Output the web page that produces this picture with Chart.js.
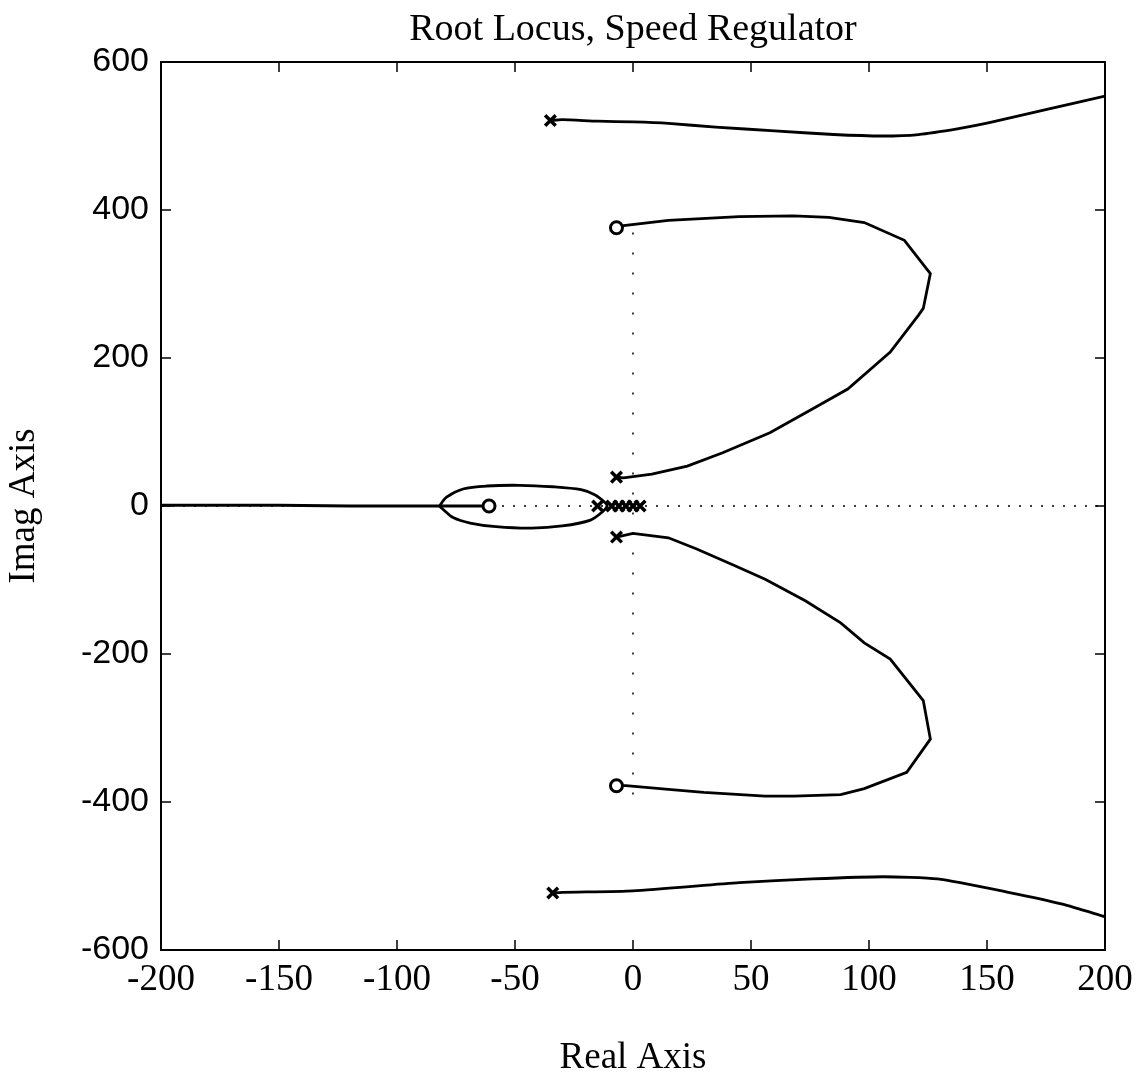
<!DOCTYPE html>
<html>
<head>
<meta charset="utf-8">
<title>Root Locus, Speed Regulator</title>
<script src="https://cdn.jsdelivr.net/npm/chart.js@4.4.1/dist/chart.umd.min.js"></script>
<style>
  html, body { margin: 0; padding: 0; background: #fff; }
  canvas { display: block; }
</style>
</head>
<body>
<canvas id="rlocus" width="1142" height="1077"></canvas>
<script>
// locus branches as [real, imag]
const topBranch = [[-35, 521], [-30, 522], [-15, 520], [0, 519], [15, 517], [35, 512], [60, 507],
  [85, 502], [106, 500], [121, 502], [138, 510], [151, 518], [174, 535], [200, 554]];
const upperLoop = [[-7, 376], [-4, 379], [15, 386], [45, 391], [68, 392], [83, 390], [98, 383],
  [115, 359], [126, 314], [123, 267], [121, 258], [109, 208], [91, 158], [76, 131], [58, 99],
  [38, 72], [23, 54], [8, 43], [-4, 38], [-7, 39]];
const lowerLoop = [[-7, -42], [0, -37], [15, -43], [27, -58], [42, -79], [56, -99], [73, -128],
  [88, -158], [98, -185], [109, -207], [123, -263], [126, -315], [116, -360], [98, -382],
  [88, -390], [68, -392], [56, -392], [30, -387], [15, -383], [-3, -378], [-7, -378]];
const bottomBranch = [[-34, -523], [-30, -522], [0, -520], [45, -509], [76, -504], [106, -501],
  [129, -504], [159, -522], [182, -538], [200, -555]];
const realBranch = [[-200, 1], [-150, 1], [-120, 0], [-83, 0], [-61, 0]];
const breakLoop = [[-82, 0], [-79, 12], [-72, 23], [-62, 27], [-48, 28], [-34, 26], [-22, 22],
  [-16, 15], [-12, 5], [-11, 0], [-13, -8], [-18, -19], [-30, -27], [-43, -30], [-58, -28],
  [-69, -23], [-76, -16], [-81, -3], [-82, 0]];

const poles = [[-35, 521], [-34, -523], [-7, 39], [-7, -42], [-15, 0], [-9, 0], [-6, 0],
  [-3, 0], [0, 0], [3, 0]];
const zeros = [[-7, 376], [-7, -378], [-61, 0]];

// dotted axis lines
const realAxisLine = [[-200, 0], [200, 0]];
const imagAxisLine = [[0, -390], [0, 376]];

const xTicks = [-200, -150, -100, -50, 0, 50, 100, 150, 200];
const yTicks = [-600, -400, -200, 0, 200, 400, 600];

const toPts = arr => arr.map(([x, y]) => ({ x, y }));

function curve(data, tension = 0) {
  return {
    data: toPts(data),
    showLine: true,
    borderColor: '#000',
    borderWidth: 2.8,
    pointRadius: 0,
    tension: tension,
    order: 2,
  };
}

function dotted(data, dash) {
  return {
    data: toPts(data),
    showLine: true,
    borderColor: '#000',
    borderWidth: 1.5,
    borderDash: dash,
    pointRadius: 0,
    order: 3,
  };
}

// frame box + inward tick marks on all four sides
const framePlugin = {
  id: 'frame',
  afterDatasetsDraw(chart) {
    const { ctx, chartArea: a, scales: { x, y } } = chart;
    const len = 10;
    ctx.save();
    ctx.strokeStyle = '#000';
    ctx.lineWidth = 2;
    ctx.strokeRect(a.left, a.top, a.right - a.left, a.bottom - a.top);
    ctx.lineWidth = 1.5;
    ctx.beginPath();
    x.ticks.forEach(t => {
      const px = x.getPixelForValue(t.value);
      ctx.moveTo(px, a.bottom); ctx.lineTo(px, a.bottom - len);
      ctx.moveTo(px, a.top); ctx.lineTo(px, a.top + len);
    });
    y.ticks.forEach(t => {
      const py = y.getPixelForValue(t.value);
      ctx.moveTo(a.left, py); ctx.lineTo(a.left + len, py);
      ctx.moveTo(a.right, py); ctx.lineTo(a.right - len, py);
    });
    ctx.stroke();
    ctx.restore();
  }
};

const ctx = document.getElementById('rlocus').getContext('2d');

new Chart(ctx, {
  type: 'scatter',
  data: {
    datasets: [
      {
        data: toPts(poles),
        pointStyle: 'crossRot',
        pointRadius: 7.5,
        pointBorderWidth: 3.5,
        borderColor: '#000',
        backgroundColor: '#000',
        order: 0,
      },
      {
        data: toPts(zeros),
        pointStyle: 'circle',
        pointRadius: 6,
        pointBorderWidth: 3,
        borderColor: '#000',
        backgroundColor: '#fff',
        order: 0,
      },
      curve(topBranch, 0.2),
      curve(upperLoop),
      curve(lowerLoop),
      curve(bottomBranch, 0.2),
      curve(realBranch),
      curve(breakLoop, 0.3),
      dotted(realAxisLine, [2, 9]),
      dotted(imagAxisLine, [2, 18]),
    ]
  },
  options: {
    responsive: false,
    animation: false,
    devicePixelRatio: 1,
    layout: { padding: { top: 0, right: 37, bottom: 0, left: 0 } },
    plugins: {
      legend: { display: false },
      tooltip: { enabled: false },
      title: {
        display: true,
        fullSize: false,
        text: 'Root Locus, Speed Regulator',
        color: '#000',
        font: { family: 'Liberation Serif', size: 38, weight: 'normal', lineHeight: 1.2 },
        padding: { top: 7, bottom: 9.4 },
      },
    },
    scales: {
      x: {
        type: 'linear',
        min: -200,
        max: 200,
        afterFit: s => { s.height = 127; },
        afterBuildTicks: s => { s.ticks = xTicks.map(v => ({ value: v })); },
        grid: { display: false },
        border: { display: false },
        ticks: {
          color: '#000',
          padding: 0,
          maxRotation: 0,
          font: { family: 'Liberation Serif', size: 37 },
        },
        title: {
          display: true,
          text: 'Real Axis',
          color: '#000',
          font: { family: 'Liberation Serif', size: 37, lineHeight: 1.0 },
          padding: { top: 0, bottom: 0 },
        },
      },
      y: {
        type: 'linear',
        min: -600,
        max: 600,
        afterFit: s => { s.width = 161; },
        afterBuildTicks: s => { s.ticks = yTicks.map(v => ({ value: v })); },
        grid: { display: false },
        border: { display: false },
        ticks: {
          color: '#000',
          padding: 4,
          font: { family: 'Liberation Sans', size: 34 },
        },
        title: {
          display: true,
          text: 'Imag Axis',
          color: '#000',
          font: { family: 'Liberation Serif', size: 37, lineHeight: 1.0 },
          padding: { top: 6, bottom: 0 },
        },
      },
    },
  },
  plugins: [framePlugin],
});
</script>
</body>
</html>
